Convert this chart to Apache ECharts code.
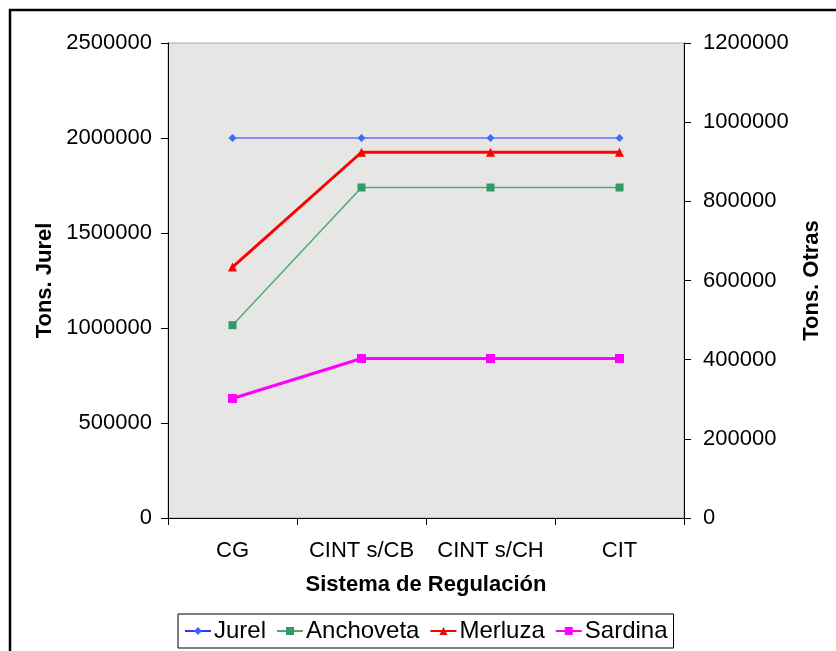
<!DOCTYPE html>
<html><head><meta charset="utf-8">
<script src="https://cdn.jsdelivr.net/npm/echarts@6/dist/echarts.min.js"></script>
<style>html,body{margin:0;padding:0;background:#fff}#c{width:836px;height:651px}</style>
</head><body><div id="c"></div>
<script>
const categories = ['CG', 'CINT s/CB', 'CINT s/CH', 'CIT'];
const jurel = [2000000, 2000000, 2000000, 2000000];
const anchoveta = [487000, 835000, 835000, 835000];
const merluza = [634000, 924000, 924000, 924000];
const sardina = [302000, 403000, 403000, 403000];
const leftTicks = [0, 500000, 1000000, 1500000, 2000000, 2500000];
const rightTicks = [0, 200000, 400000, 600000, 800000, 1000000, 1200000];

const FONT = '"Liberation Sans", Arial, sans-serif';
const chart = echarts.init(document.getElementById('c'));
const plain = v => String(v);
const axisCommon = {
  axisLine: {show: true, lineStyle: {color: '#000', width: 1}},
  axisTick: {show: true, length: 7, lineStyle: {color: '#000'}},
  axisLabel: {color: '#000', fontFamily: FONT, fontSize: 22, formatter: plain},
  splitLine: {show: false},
  nameTextStyle: {color: '#000', fontFamily: FONT, fontSize: 22, fontWeight: 'bold'}
};
chart.setOption({
  animation: false,
  backgroundColor: '#fff',
  graphic: [{
    type: 'rect', shape: {x: 10, y: 10, width: 900, height: 700},
    style: {fill: 'none', stroke: '#000', lineWidth: 2.5}, silent: true, z: -1
  }],
  grid: {left: 168, right: 152, top: 43, bottom: 133, show: true,
         backgroundColor: '#e6e6e4', borderColor: '#a8a8a8', borderWidth: 1},
  legend: {
    top: 614, left: 178,
    itemWidth: 26, itemHeight: 10, itemGap: 10,
    borderColor: '#000', borderWidth: 1, padding: [5, 6, 5, 6],
    textStyle: {color: '#000', fontFamily: FONT, fontSize: 24, padding: [0, 0, 0, -2]},
    data: ['Jurel', 'Anchoveta', 'Merluza', 'Sardina']
  },
  xAxis: Object.assign({}, axisCommon, {
    type: 'category', data: categories, boundaryGap: true,
    name: 'Sistema de Regulación', nameLocation: 'middle', nameGap: 56,
    axisTick: {show: true, length: 7, interval: 0, alignWithLabel: false, lineStyle: {color: '#000'}},
    axisLabel: {color: '#000', fontFamily: FONT, fontSize: 22, margin: 22, interval: 0}
  }),
  yAxis: [
    Object.assign({}, axisCommon, {
      type: 'value', min: leftTicks[0], max: leftTicks[leftTicks.length - 1], interval: 500000,
      name: 'Tons. Jurel', nameLocation: 'middle', nameGap: 112,
      axisLabel: Object.assign({}, axisCommon.axisLabel, {margin: 16})
    }),
    Object.assign({}, axisCommon, {
      type: 'value', position: 'right', min: rightTicks[0], max: rightTicks[rightTicks.length - 1], interval: 200000,
      name: 'Tons. Otras', nameLocation: 'middle', nameGap: 117,
      axisLabel: Object.assign({}, axisCommon.axisLabel, {margin: 19})
    })
  ],
  series: [
    {name: 'Jurel', type: 'line', yAxisIndex: 0, data: jurel, symbol: 'diamond', symbolSize: 8,
     lineStyle: {color: '#3333ff', width: 1}, itemStyle: {color: '#3d6bff'}},
    {name: 'Anchoveta', type: 'line', yAxisIndex: 1, data: anchoveta, symbol: 'rect', symbolSize: 8,
     lineStyle: {color: '#55a67f', width: 1.5}, itemStyle: {color: '#339966'}},
    {name: 'Merluza', type: 'line', yAxisIndex: 1, data: merluza, symbol: 'triangle', symbolSize: 9,
     lineStyle: {color: '#ff0000', width: 3}, itemStyle: {color: '#ff0000'}},
    {name: 'Sardina', type: 'line', yAxisIndex: 1, data: sardina, symbol: 'rect', symbolSize: 9,
     lineStyle: {color: '#ff00ff', width: 3}, itemStyle: {color: '#ff00ff'}}
  ]
});
</script></body></html>
